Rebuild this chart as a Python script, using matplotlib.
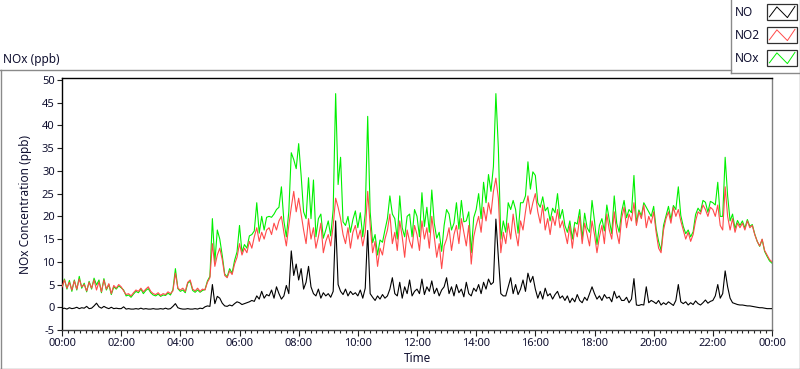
import numpy as np
import matplotlib
matplotlib.use("Agg")
import matplotlib.pyplot as plt
from matplotlib.lines import Line2D
from matplotlib.patches import Rectangle
from matplotlib.ticker import MultipleLocator, FixedLocator, FixedFormatter

# ---- data: 5-minute samples over one day (00:00 .. 24:00) ----
minutes = np.arange(0, 24 * 60 + 1, 5)

no = [
    -0.3, -0.2, -0.4, -0.1, -0.3, -0.2, 0.0, -0.3, -0.1, -0.2, 0.2, -0.3,
    -0.2, 0.3, 0.9, 0.1, -0.2, 0.2, -0.1, -0.3, 0.0, -0.3, -0.2, -0.3,
    -0.3, 0.1, -0.4, -0.3, -0.4, -0.4, -0.3, -0.4, -0.2, -0.4, -0.3, -0.4,
    -0.4, -0.3, -0.4, -0.4, -0.3, -0.4, -0.2, -0.4, -0.3, 0.2, 0.8, -0.1,
    -0.3, -0.4, -0.4, -0.3, -0.4, -0.4, -0.3, -0.4, -0.2, -0.3, 0.1, 0.3,
    0.2, 5.0, 0.8, 2.4, 2.0, 0.9, 0.3, 0.2, 0.5, 0.3, 0.8, 1.2,
    1.0, 0.6, 0.8, 1.0, 1.2, 1.5, 1.3, 2.5, 1.8, 3.5, 2.0, 2.8,
    2.5, 3.8, 2.0, 4.5, 3.0, 1.8, 2.5, 4.8, 3.0, 12.4, 7.0, 9.5,
    6.0, 8.5, 4.0, 5.5, 9.0, 4.5, 3.0, 2.5, 4.0, 2.0, 3.2, 2.5,
    3.0, 2.2, 3.5, 19.0, 5.0, 3.5, 2.8, 4.0, 2.5, 3.5, 2.8, 3.2,
    2.5, 3.8, 2.0, 4.2, 16.9, 3.0, 2.2, 1.5, 2.5, 1.8, 2.8, 2.0,
    2.5, 4.0, 6.5, 3.0, 2.5, 5.5, 2.0, 4.5, 3.0, 6.0, 2.5, 3.5,
    4.0, 3.0, 6.2, 2.8, 4.5, 3.5, 5.8, 3.0, 4.2, 2.5, 3.8, 4.5,
    6.5, 3.0, 4.5, 2.5, 5.0, 3.2, 4.0, 2.3, 5.5, 3.0, 2.5, 4.2,
    3.5, 5.0, 3.0, 5.5, 4.0, 6.2, 5.0, 5.5, 19.4, 11.0, 3.0, 2.5,
    2.5, 4.5, 6.5, 3.0, 5.0, 2.8, 4.0, 6.0, 3.5, 7.5, 5.5, 6.8,
    4.0, 2.0, 3.5, 1.8, 4.2, 2.5, 3.0, 1.8, 2.8, 3.5, 2.0, 2.5,
    1.5, 2.5, 1.0, 2.0, 1.2, 2.8, 1.5, 1.0, 2.2, 1.5, 3.0, 4.5,
    3.0, 1.8, 2.5, 1.5, 2.8, 2.0, 2.2, 1.2, 3.5, 2.0, 2.5, 1.5,
    1.5, 2.2, 1.0, 1.8, 6.3, 0.5, 0.4, 0.6, 0.5, 4.5, 1.0, 1.5,
    1.2, 0.8, 1.5, 0.5, 1.0, 0.6, 1.2, 0.8, 0.4, 1.5, 5.0, 1.2,
    0.8, 1.2, 0.5, 1.0, 0.6, 1.4, 0.8, 0.5, 1.0, 1.6, 0.9, 1.3,
    1.5, 2.5, 5.0, 2.0, 3.0, 8.0, 4.5, 2.0, 1.0, 0.8, 0.6, 0.5,
    0.5, 0.4, 0.3, 0.3, 0.2, 0.1, 0.0, -0.1, -0.1, -0.2, -0.3, -0.3,
    -0.3,
]

no2 = [
    4.5, 6.0, 4.2, 5.5, 3.8, 5.8, 4.0, 6.2, 4.5, 5.0, 3.6, 5.5,
    4.2, 6.0, 3.8, 5.6, 3.4, 6.0, 4.0, 5.2, 3.0, 4.8, 4.2, 5.0,
    4.5, 3.6, 2.8, 3.0, 2.5, 3.2, 3.8, 3.5, 4.2, 3.4, 4.0, 4.5,
    3.5, 3.0, 2.8, 3.2, 2.6, 3.0, 2.8, 3.4, 3.0, 3.6, 7.5, 4.2,
    3.8, 4.2, 3.5, 5.5, 6.0, 4.0, 3.6, 4.2, 3.5, 4.0, 3.8, 5.5,
    6.5, 14.0, 9.0, 11.5, 13.0, 10.5, 7.0, 6.5, 8.0, 7.2, 9.5, 11.0,
    14.0, 11.5, 13.0, 12.0, 14.5, 13.0, 15.5, 17.5, 14.5, 16.5, 15.0, 17.0,
    17.5, 16.0, 18.5, 17.0, 19.0, 20.0, 16.5, 13.5, 18.0, 22.0, 25.5, 21.0,
    24.0, 20.5, 17.0, 14.0, 19.5, 15.0, 17.5, 13.0, 15.5, 18.5, 12.0, 14.5,
    16.0, 13.5, 18.0, 24.0, 22.0, 19.5, 16.0, 14.0, 17.5, 13.0, 16.5, 18.0,
    15.0, 17.0, 13.5, 16.5, 25.5, 18.0, 12.0, 14.5, 9.0, 13.0, 11.5, 15.0,
    17.0, 20.5, 14.0, 16.5, 12.5, 19.0, 15.5, 11.0, 17.0, 14.5, 13.0, 18.0,
    16.0, 12.5, 19.0, 15.0, 17.5, 13.0, 20.0, 15.5, 11.0, 14.0, 8.5, 13.5,
    15.0, 17.5, 12.5, 16.0, 18.0, 14.0, 19.5, 16.5, 13.5, 18.0, 9.5, 15.5,
    18.0, 20.0, 16.5, 22.0, 19.0, 23.0, 20.5, 25.5, 28.4, 24.0, 12.0, 16.5,
    14.0, 18.5, 15.0, 20.5, 16.5, 13.5, 19.0, 17.0, 21.0, 24.5, 20.5, 23.0,
    25.0, 21.0, 18.5, 22.5, 17.0, 19.5, 16.0, 20.0, 18.0, 21.5, 17.5, 19.0,
    16.5, 14.0, 18.0, 13.0, 17.5, 15.5, 20.0, 14.0, 18.5, 16.0, 13.5, 19.0,
    16.0, 12.0, 15.5, 18.0, 14.0, 20.5, 17.0, 15.0, 21.0, 16.5, 14.0, 19.5,
    22.0, 17.5, 20.5, 19.0, 23.0, 18.0, 21.0, 19.5, 22.5, 17.5, 20.0, 18.5,
    21.0, 16.5, 13.0, 12.0, 17.0, 19.5, 21.0, 18.5, 22.0, 20.0, 21.5, 19.0,
    17.0, 15.0, 16.5, 14.5, 16.0, 19.0, 21.0, 20.5, 22.5, 21.5, 20.0, 22.0,
    21.5, 20.0, 22.5, 18.0, 17.0, 26.5, 20.0, 17.0, 19.5, 16.5, 18.5, 17.5,
    18.5, 17.0, 19.0, 17.5, 18.0, 16.0, 14.5, 13.5, 15.0, 12.5, 11.5, 10.5,
    10.0,
]

nox = [
    4.3, 6.2, 4.0, 5.9, 3.5, 6.0, 3.8, 6.8, 4.2, 5.3, 3.4, 5.7,
    4.0, 6.4, 4.9, 6.0, 3.2, 6.3, 3.8, 5.0, 2.8, 4.5, 4.0, 4.7,
    4.3, 3.8, 2.5, 2.7, 2.2, 2.9, 3.5, 3.2, 4.0, 3.0, 3.7, 4.1,
    3.2, 2.7, 2.5, 2.9, 2.4, 2.7, 2.6, 3.1, 2.7, 3.9, 8.5, 4.1,
    3.5, 3.8, 3.2, 5.3, 5.7, 3.7, 3.3, 3.8, 3.3, 3.7, 3.9, 5.8,
    6.8, 19.5, 9.9, 17.0, 15.0, 11.4, 7.3, 6.7, 8.5, 7.5, 10.3, 12.2,
    18.0, 12.1, 13.8, 13.0, 15.7, 16.0, 16.8, 23.0, 16.3, 20.0, 17.0, 19.8,
    20.0, 19.8, 20.5, 21.5, 22.0, 26.5, 19.0, 15.5, 21.0, 34.0, 32.5, 30.5,
    36.0, 29.0, 21.0, 19.5, 28.5, 19.5, 28.0, 15.5, 19.5, 20.5, 15.2, 17.0,
    19.0, 15.7, 21.5, 47.0, 27.0, 33.0, 18.8, 18.0, 20.0, 16.5, 19.3, 21.2,
    17.5, 20.8, 15.5, 20.7, 42.0, 21.0, 14.2, 16.0, 11.5, 14.8, 14.3, 17.0,
    19.5, 24.5, 20.5, 19.5, 15.0, 24.5, 17.5, 15.5, 20.0, 20.5, 15.5, 21.5,
    20.0, 15.5, 25.2, 17.8, 22.0, 16.5, 25.8, 18.5, 15.2, 16.5, 12.3, 18.0,
    21.5, 20.5, 17.0, 18.5, 23.0, 17.2, 23.5, 18.8, 19.0, 21.0, 12.0, 19.7,
    21.5, 25.0, 19.5, 27.5, 23.0, 29.2, 25.5, 31.0, 47.0, 35.0, 15.0, 19.0,
    16.5, 23.0, 21.5, 23.5, 21.5, 16.3, 23.0, 23.0, 24.5, 32.0, 26.0, 29.8,
    29.0, 23.0, 22.0, 24.3, 21.2, 22.0, 19.0, 21.8, 20.8, 25.0, 19.5, 21.5,
    18.0, 16.5, 19.0, 15.0, 18.7, 18.3, 21.5, 15.0, 20.7, 17.5, 16.5, 23.5,
    19.0, 13.8, 18.0, 19.5, 16.8, 22.5, 19.2, 16.2, 24.5, 18.5, 16.5, 21.0,
    23.5, 19.7, 21.5, 20.8, 29.0, 18.5, 21.4, 20.1, 23.0, 22.0, 21.0, 20.0,
    22.2, 17.3, 14.5, 12.5, 18.0, 20.1, 22.2, 19.3, 22.4, 21.5, 26.5, 20.2,
    17.8, 16.2, 17.0, 15.5, 16.6, 20.4, 21.8, 21.0, 23.5, 23.1, 20.9, 23.3,
    23.0, 22.5, 27.5, 20.0, 20.0, 33.0, 24.5, 19.0, 20.5, 17.3, 19.1, 18.0,
    19.0, 17.4, 19.3, 17.8, 18.2, 16.1, 14.5, 13.4, 14.9, 12.3, 11.2, 10.2,
    9.7,
]

series_names = ["NO", "NO2", "NOx"]
series_colors = ["#000000", "#ff4a4a", "#00f000"]

x_tick_hours = list(range(0, 25, 2))
x_tick_labels = ["00:00", "02:00", "04:00", "06:00", "08:00", "10:00", "12:00",
                 "14:00", "16:00", "18:00", "20:00", "22:00", "00:00"]
y_ticks = list(range(-5, 51, 5))

plt.rcParams["font.family"] = ["Noto Sans", "DejaVu Sans"]
text_color = "#101030"

W, H = 800, 369
fig = plt.figure(figsize=(W / 100, H / 100), dpi=100)
fig.patch.set_facecolor("white")

# plot area in pixels: x 62..772, y 78..330
ax = fig.add_axes([62 / W, (H - 330) / H, 710 / W, 252 / H])
hours = minutes / 60.0
ax.plot(hours, nox, color=series_colors[2], lw=0.8, zorder=2)
ax.plot(hours, no2, color=series_colors[1], lw=0.8, zorder=3)
ax.plot(hours, no, color=series_colors[0], lw=0.8, zorder=4)

ax.set_xlim(0, 24)
ax.set_ylim(-5, 50.44)
ax.xaxis.set_major_locator(FixedLocator(x_tick_hours))
ax.xaxis.set_major_formatter(FixedFormatter(x_tick_labels))
ax.xaxis.set_minor_locator(MultipleLocator(0.2))
ax.yaxis.set_major_locator(FixedLocator(y_ticks))
ax.set_yticklabels([str(v) for v in y_ticks])

ax.tick_params(axis="x", which="major", direction="out", length=4.5, width=0.8,
               pad=1.5, labelsize=8, labelcolor=text_color, color="#202020")
ax.tick_params(axis="x", which="minor", direction="out", length=2.3, width=0.8,
               color="#202020")
ax.tick_params(axis="y", which="major", direction="out", length=3.8, width=0.8,
               pad=1.5, labelsize=8, labelcolor=text_color, color="#202020")

for side, col in [("top", "#000000"), ("left", "#000000"),
                  ("right", "#808080"), ("bottom", "#404040")]:
    ax.spines[side].set_color(col)
    ax.spines[side].set_linewidth(1.0)

ax.set_ylabel("NOx Concentration (ppb)", fontsize=8.5, color=text_color)
ax.yaxis.set_label_coords(-30 / 710, 0.5)
ax.set_xlabel("Time", fontsize=8.5, color=text_color, labelpad=2)

# outer gray frame of the graph panel
def px_line(x0, y0, x1, y1, color="#8a8a8a", lw=1.0):
    fig.add_artist(Line2D([x0 / W, x1 / W], [1 - y0 / H, 1 - y1 / H],
                          color=color, lw=lw, transform=fig.transFigure))

px_line(0, 69.5, 731, 69.5)
px_line(0.5, 69.5, 0.5, 368.5)
px_line(0, 368.5, 800, 368.5)
px_line(799.5, 0, 799.5, 368.5)
# legend panel
px_line(731, 0, 731, 72.5)
px_line(731, 72.5, 800, 72.5)

fig.text(3 / W, 1 - 59 / H, "NOx (ppb)", fontsize=8.5, color=text_color,
         va="center", ha="left")

# legend entries
box_tops = [4, 27, 50]
for name, col, top in zip(series_names, series_colors, box_tops):
    fig.text(735 / W, 1 - (top + 8.5) / H, name, fontsize=8.5, color=text_color,
             va="center", ha="left")
    bx, bw, bh = 767, 30, 16
    fig.add_artist(Rectangle((bx / W, 1 - (top + bh) / H), bw / W, bh / H,
                             transform=fig.transFigure, facecolor="white",
                             edgecolor="#303030", lw=0.9))
    fx = [0.08, 0.33, 0.68, 0.93]
    fy = [0.2, 0.82, 0.15, 0.85]
    fig.add_artist(Line2D([(bx + f * bw) / W for f in fx],
                          [1 - (top + bh - g * bh) / H for g in fy],
                          color=col, lw=0.7, transform=fig.transFigure))

fig.savefig("out.png", dpi=100)
